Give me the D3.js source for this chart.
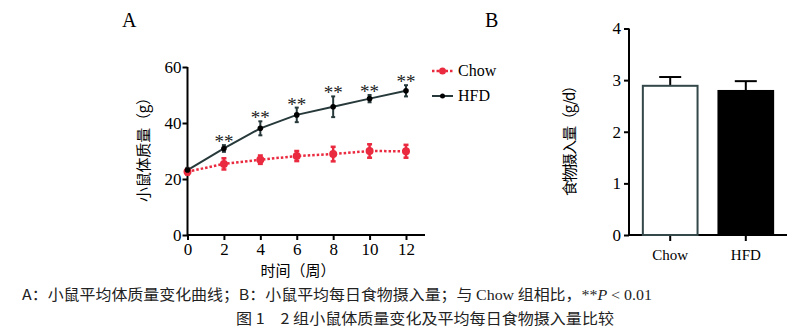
<!DOCTYPE html>
<html><head><meta charset="utf-8">
<script src="https://cdn.jsdelivr.net/npm/d3@7"></script>
<style>body{margin:0;background:#fff}svg{display:block}</style>
</head><body>
<svg id="c" width="800" height="334"></svg>
<script>
const weeks = [0, 2, 4, 6, 8, 10, 12];
const chowMean = [22.6, 25.4, 26.9, 28.2, 28.9, 30.0, 29.9];
const chowErr  = [1.0, 2.0, 1.5, 1.8, 2.6, 2.4, 2.3];
const hfdMean  = [23.2, 30.9, 38.1, 42.9, 45.8, 48.7, 51.5];
const hfdErr   = [0.8, 1.2, 2.5, 2.6, 3.7, 1.3, 2.0];
const sigMarks = ["", "**", "**", "**", "**", "**", "**"];
const yTicksA = [0, 20, 40, 60];
const xTicksA = [0, 2, 4, 6, 8, 10, 12];
const barGroups = ["Chow", "HFD"];
const barMean = [2.89, 2.79];
const barErr = [0.17, 0.19];
const yTicksB = [0, 1, 2, 3, 4];

const svg = d3.select("#c");
const serif = "'Liberation Serif','DejaVu Serif',serif";
const cjk = "'Noto Sans CJK SC','Noto Sans',sans-serif";
const red = "#ea2a3f", dark = "#27393a";

function styleAxisText(sel, size) {
  sel.selectAll("text").style("font-family", serif).style("font-size", size + "px").attr("fill", "#000");
}

// ---- Panel A ----
const xA = d3.scaleLinear().domain([0, 12]).range([187.5, 406]);
const yA = d3.scaleLinear().domain([0, 60]).range([235, 67]);
const gA = svg.append("g");

gA.append("line").attr("x1", xA(0)).attr("x2", 425).attr("y1", yA(0)).attr("y2", yA(0)).attr("stroke", "#000").attr("stroke-width", 2);
gA.append("line").attr("x1", xA(0)).attr("x2", xA(0)).attr("y1", yA(0)).attr("y2", yA(60)).attr("stroke", "#000").attr("stroke-width", 2);
const axL = gA.append("g").attr("transform", `translate(${xA(0)},0)`)
  .call(d3.axisLeft(yA).tickValues(yTicksA).tickSize(5).tickSizeOuter(0).tickFormat(d3.format("d")));
axL.select(".domain").remove();
axL.selectAll("line").attr("stroke-width", 2);
styleAxisText(axL, 17);
axL.selectAll("text").attr("x", -6);
const axB = gA.append("g").attr("transform", `translate(0,${yA(0)})`)
  .call(d3.axisBottom(xA).tickValues(xTicksA).tickSize(5).tickSizeOuter(0).tickFormat(d3.format("d")));
axB.select(".domain").remove();
axB.selectAll("line").attr("stroke-width", 2);
styleAxisText(axB, 17);
axB.selectAll("text").attr("y", 8);

const chow = weeks.map((w, i) => ({w, m: chowMean[i], e: chowErr[i]}));
const hfd = weeks.map((w, i) => ({w, m: hfdMean[i], e: hfdErr[i], s: sigMarks[i]}));
const line = d3.line().x(d => xA(d.w)).y(d => yA(d.m));

gA.append("path").datum(chow).attr("d", line).attr("fill", "none").attr("stroke", red).attr("stroke-width", 2.5).attr("stroke-dasharray", "2.5,2");
gA.append("path").datum(hfd).attr("d", line).attr("fill", "none").attr("stroke", dark).attr("stroke-width", 2);

function errBars(data, color, cap, w) {
  const g = gA.append("g").attr("stroke", color).attr("stroke-width", w);
  g.selectAll(".v").data(data).join("line").attr("x1", d => xA(d.w)).attr("x2", d => xA(d.w))
    .attr("y1", d => yA(d.m - d.e)).attr("y2", d => yA(d.m + d.e));
  g.selectAll(".t").data(data).join("line").attr("x1", d => xA(d.w) - cap).attr("x2", d => xA(d.w) + cap)
    .attr("y1", d => yA(d.m + d.e)).attr("y2", d => yA(d.m + d.e));
  g.selectAll(".b").data(data).join("line").attr("x1", d => xA(d.w) - cap).attr("x2", d => xA(d.w) + cap)
    .attr("y1", d => yA(d.m - d.e)).attr("y2", d => yA(d.m - d.e));
}
errBars(chow, red, 2.5, 2.5);
errBars(hfd, dark, 2, 2);
gA.append("g").selectAll("circle").data(chow).join("circle")
  .attr("cx", d => xA(d.w)).attr("cy", d => yA(d.m)).attr("r", 4).attr("fill", red);
gA.append("g").selectAll("circle").data(hfd).join("circle")
  .attr("cx", d => xA(d.w)).attr("cy", d => yA(d.m)).attr("r", 2.8).attr("fill", "#000");
gA.append("g").selectAll("text").data(hfd.filter(d => d.s)).join("text")
  .attr("x", d => xA(d.w)).attr("y", d => yA(d.m + d.e) + 3).attr("text-anchor", "middle")
  .style("font-family", serif).style("font-size", "19px").attr("fill", "#222").text(d => d.s);

const lg = gA.append("g");
lg.append("line").attr("x1", 432).attr("x2", 453).attr("y1", 71).attr("y2", 71).attr("stroke", red).attr("stroke-width", 2.5).attr("stroke-dasharray", "2.5,2");
lg.append("circle").attr("cx", 442.5).attr("cy", 71).attr("r", 3.5).attr("fill", red);
lg.append("text").attr("x", 458).attr("y", 76).style("font-family", serif).style("font-size", "16px").text("Chow");
lg.append("line").attr("x1", 432).attr("x2", 453).attr("y1", 96).attr("y2", 96).attr("stroke", dark).attr("stroke-width", 2);
lg.append("circle").attr("cx", 442.5).attr("cy", 96).attr("r", 2.5).attr("fill", "#000");
lg.append("text").attr("x", 458).attr("y", 101).style("font-family", serif).style("font-size", "16px").text("HFD");

gA.append("text").attr("x", 122).attr("y", 27).style("font-family", serif).style("font-size", "20px").text("A");
gA.append("text").attr("transform", "translate(149,146) rotate(-90)").attr("text-anchor", "middle")
  .style("font-family", cjk).style("font-size", "15px").attr("textLength", 112).text("小鼠体质量（g）");
gA.append("text").attr("x", 298).attr("y", 276).attr("text-anchor", "middle")
  .style("font-family", cjk).style("font-size", "15px").text("时间（周）");

// ---- Panel B ----
const xB = d3.scaleBand().domain(barGroups).range([629, 787]).paddingInner(0.25).paddingOuter(0.17);
const yB = d3.scaleLinear().domain([0, 4]).range([235, 28.5]);
const gB = svg.append("g");
gB.append("line").attr("x1", 629).attr("x2", 787).attr("y1", yB(0)).attr("y2", yB(0)).attr("stroke", "#000").attr("stroke-width", 2);
gB.append("line").attr("x1", 629).attr("x2", 629).attr("y1", yB(0)).attr("y2", yB(4)).attr("stroke", "#000").attr("stroke-width", 2);
const bL = gB.append("g").attr("transform", "translate(629,0)")
  .call(d3.axisLeft(yB).tickValues(yTicksB).tickSize(5).tickSizeOuter(0).tickFormat(d3.format("d")));
bL.select(".domain").remove();
bL.selectAll("line").attr("stroke-width", 2);
styleAxisText(bL, 17);
bL.selectAll("text").attr("x", -8);
const bB = gB.append("g").attr("transform", `translate(0,${yB(0)})`)
  .call(d3.axisBottom(xB).tickSize(6).tickSizeOuter(0));
bB.select(".domain").remove();
bB.selectAll("line").attr("stroke-width", 2);
styleAxisText(bB, 15);
bB.selectAll("text").attr("y", 14);

const bars = barGroups.map((g, i) => ({g, m: barMean[i], e: barErr[i]}));
gB.selectAll(".eb").data(bars).join("g").each(function(d) {
  const cx = xB(d.g) + xB.bandwidth() / 2;
  const s = d3.select(this).attr("stroke", "#000").attr("stroke-width", 2);
  s.append("line").attr("x1", cx).attr("x2", cx).attr("y1", yB(d.m)).attr("y2", yB(d.m + d.e));
  s.append("line").attr("x1", cx - 11).attr("x2", cx + 11).attr("y1", yB(d.m + d.e)).attr("y2", yB(d.m + d.e));
});
gB.selectAll("rect").data(bars).join("rect")
  .attr("x", d => xB(d.g) + 1).attr("width", xB.bandwidth() - 2)
  .attr("y", d => yB(d.m)).attr("height", d => yB(0) - yB(d.m))
  .attr("fill", (d, i) => i === 0 ? "#fff" : "#000").attr("stroke", (d, i) => i === 0 ? "#34484a" : "#000").attr("stroke-width", 2);

gB.append("text").attr("x", 485).attr("y", 27).style("font-family", serif).style("font-size", "20px").text("B");
gB.append("text").attr("transform", "translate(575,137) rotate(-90)").attr("text-anchor", "middle")
  .style("font-family", cjk).style("font-size", "15px").attr("textLength", 118).text("食物摄入量（g/d）");

// ---- captions ----
const cap1 = svg.append("text").attr("x", 22).attr("y", 300).style("font-family", cjk).style("font-size", "15px").attr("fill", "#222")
  .attr("textLength", 630).attr("lengthAdjust", "spacingAndGlyphs");
cap1.append("tspan").text("A：小鼠平均体质量变化曲线；B：小鼠平均每日食物摄入量；与 ");
cap1.append("tspan").style("font-family", serif).text("Chow");
cap1.append("tspan").text(" 组相比，");
cap1.append("tspan").style("font-family", serif).text("**");
cap1.append("tspan").style("font-family", serif).style("font-style", "italic").text("P");
cap1.append("tspan").style("font-family", serif).text(" < 0.01");
svg.append("text").attr("x", 425).attr("y", 324).attr("text-anchor", "middle").style("font-family", cjk)
  .style("font-size", "15px").attr("fill", "#222").attr("textLength", 378).attr("lengthAdjust", "spacingAndGlyphs")
  .text("图 1　2 组小鼠体质量变化及平均每日食物摄入量比较");
</script>
</body></html>
